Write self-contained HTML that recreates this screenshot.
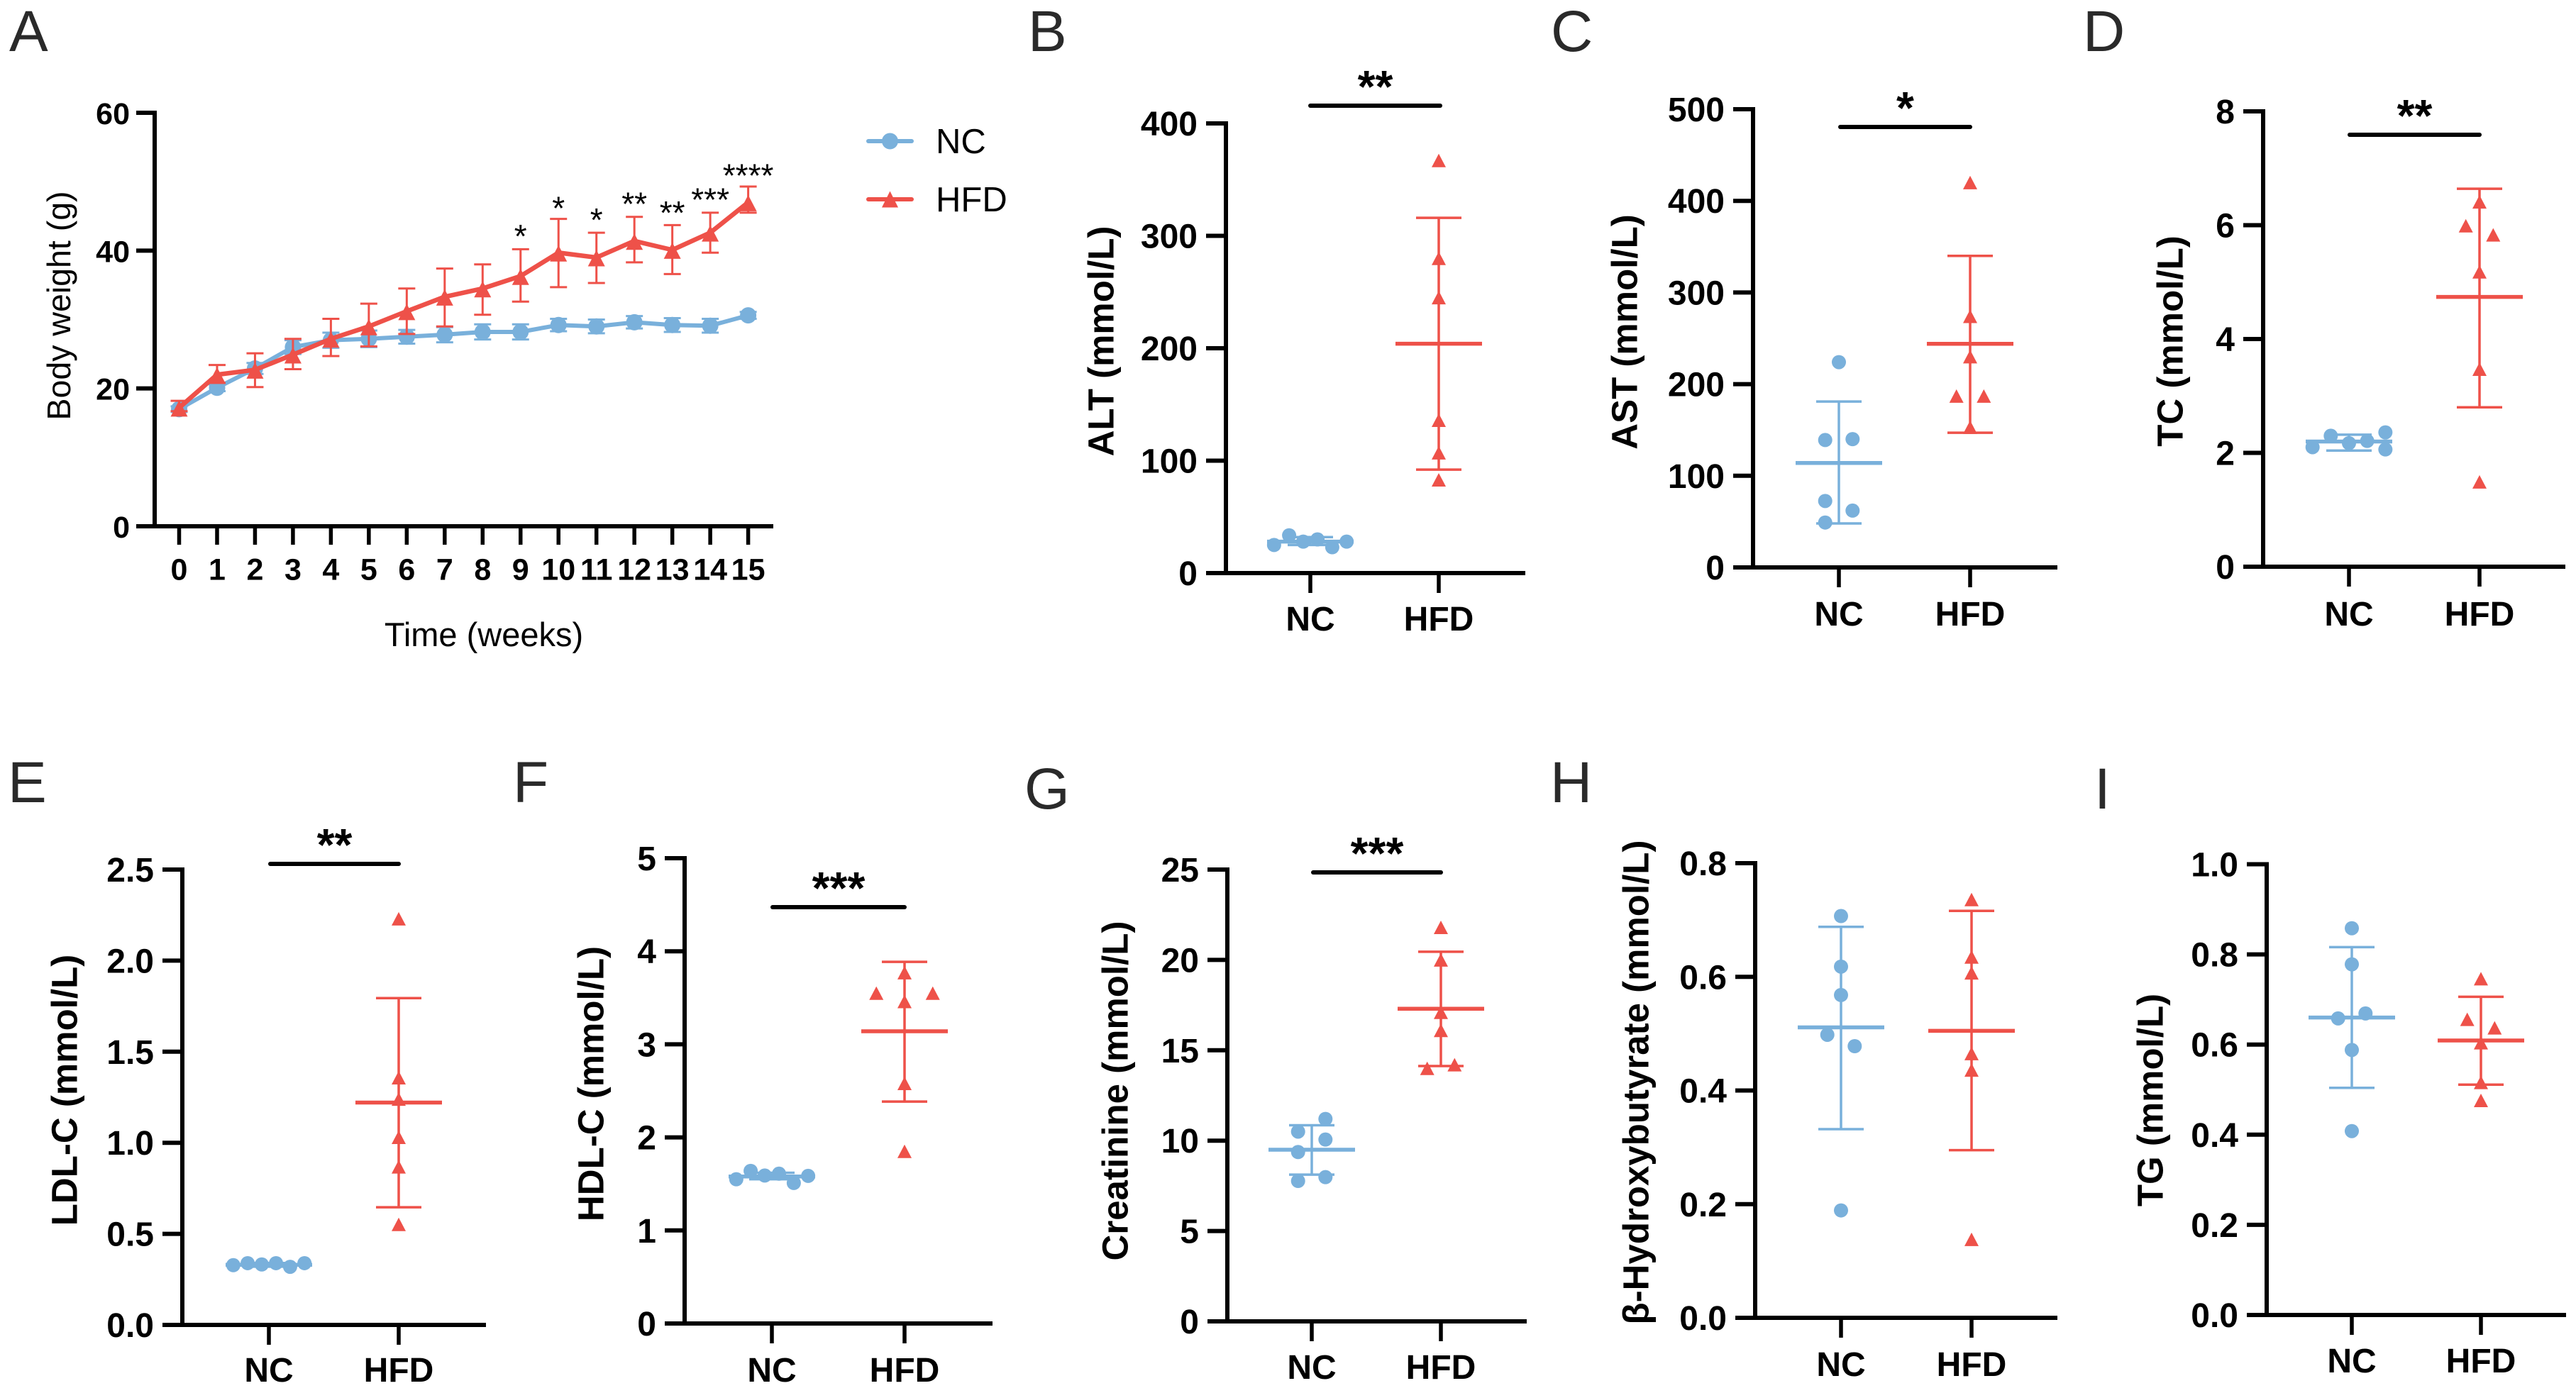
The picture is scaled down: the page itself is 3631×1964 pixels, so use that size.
<!DOCTYPE html>
<html lang="en">
<head>
<meta charset="utf-8">
<title>Body weight and serum biochemistry, NC vs HFD</title>
<style>
html,body{margin:0;padding:0;background:#fff;width:3631px;height:1964px;overflow:hidden}
svg{display:block}
text{font-family:"Liberation Sans",Arial,sans-serif}
</style>
</head>
<body>
<svg id="figure" xmlns="http://www.w3.org/2000/svg" width="3631" height="1964" viewBox="0 0 3631 1964"></svg>
<script>
// ---------- Panel A data ----------
const weeks = [0,1,2,3,4,5,6,7,8,9,10,11,12,13,14,15];
const weightTicks = [0,20,40,60];
const ncWeight   = [17.0,20.1,22.9,26.0,27.0,27.2,27.5,27.8,28.2,28.2,29.2,29.0,29.6,29.2,29.1,30.6];
const ncWeightSd = [0.4,0.5,0.8,1.0,1.1,1.2,1.0,1.1,1.1,1.1,0.9,1.0,0.9,1.0,1.0,0.5];
const hfdWeight   = [17.2,22.0,22.7,24.9,27.2,29.0,31.2,33.3,34.5,36.3,39.7,39.0,41.4,40.1,42.6,47.0];
const hfdWeightHi = [18.2,23.4,25.1,27.2,30.1,32.3,34.5,37.4,38.0,40.2,44.6,42.6,44.9,43.7,45.5,49.3];
const hfdWeightLo = [16.7,20.8,20.2,22.8,24.7,26.1,27.9,29.0,30.7,32.6,34.7,35.3,38.3,36.6,39.7,45.5];
const sigWeeks  = [9,10,11,12,13,14,15];
const sigLabels = ["*","*","*","**","**","***","****"];
const sigLevels = [42.7,46.8,45.1,47.4,46.1,48.0,51.5];

// ---------- Dot plot data (values, [mean, upper, lower], lateral jitter slot) ----------
const altTicks = [0,100,200,300,400];
const altNC  = [25,33.6,28,30,23,28];
const altNCStat = [28,32,25];
const altNCJit  = [-2.65,-1.55,-0.52,0.52,1.6,2.65];
const altHFD = [367,280,245,136,107,83];
const altHFDStat = [204,316,92];
const altHFDJit  = [0,0,0,0,0,0];

const astTicks = [0,100,200,300,400,500];
const astNC  = [224,139,140,72.5,62,49];
const astNCStat = [114,181,48];
const astNCJit  = [0,-1,1,-1,1,-1];
const astHFD = [420,274,230,187,187,153];
const astHFDStat = [244,340,147];
const astHFDJit  = [0,0,0,-1,1,0];

const tcTicks = [0,2,4,6,8];
const tcNC  = [2.10,2.30,2.17,2.21,2.36,2.06];
const tcNCStat = [2.2,2.32,2.04];
const tcNCJit  = [-2.66,-1.33,0,1.33,2.66,2.66];
const tcHFD = [6.41,5.99,5.83,5.18,3.47,1.49];
const tcHFDStat = [4.74,6.64,2.8];
const tcHFDJit  = [0,-1,1,0,0,0];

const ldlTicks = [0,0.5,1,1.5,2,2.5];
const ldlNC  = [0.328,0.339,0.332,0.339,0.319,0.339];
const ldlNCStat = [0.33,0.34,0.32];
const ldlNCJit  = [-2.6,-1.55,-0.52,0.52,1.55,2.6];
const ldlHFD = [2.23,1.357,1.24,1.03,0.868,0.552];
const ldlHFDStat = [1.221,1.794,0.646];
const ldlHFDJit  = [0,0,0,0,0,0];

const hdlTicks = [0,1,2,3,4,5];
const hdlNC  = [1.55,1.64,1.59,1.61,1.51,1.586];
const hdlNCStat = [1.58,1.62,1.55];
const hdlNCJit  = [-2.6,-1.55,-0.52,0.52,1.6,2.65];
const hdlHFD = [3.77,3.55,3.55,3.46,2.58,1.85];
const hdlHFDStat = [3.14,3.886,2.385];
const hdlHFDJit  = [0,-2.06,2.06,0,0,0];

const creTicks = [0,5,10,15,20,25];
const creNC  = [10.5,11.2,10.06,9.37,7.98,7.77];
const creNCStat = [9.5,10.85,8.12];
const creNCJit  = [-1,1,1,-1,1,-1];
const creHFD = [21.8,20,17.1,16.1,14.2,14];
const creHFDStat = [17.3,20.45,14.13];
const creHFDJit  = [0,0,0,0,1,-1];

const bhbTicks = [0,0.2,0.4,0.6,0.8];
const bhbNC  = [0.707,0.618,0.568,0.498,0.478,0.189];
const bhbNCStat = [0.511,0.688,0.332];
const bhbNCJit  = [0,0,0,-1,1,0];
const bhbHFD = [0.736,0.635,0.607,0.465,0.436,0.138];
const bhbHFDStat = [0.505,0.716,0.295];
const bhbHFDJit  = [0,0,0,0,0,0];

const tgTicks = [0,0.2,0.4,0.6,0.8,1];
const tgNC  = [0.858,0.778,0.669,0.658,0.588,0.408];
const tgNCStat = [0.66,0.816,0.504];
const tgNCJit  = [0,0,1,-1,0,0];
const tgHFD = [0.746,0.656,0.637,0.604,0.516,0.476];
const tgHFDStat = [0.609,0.706,0.511];
const tgHFDJit  = [0,-1,1,0,0,0];

const categories = ["NC","HFD"];

// ---------- Drawing ----------
const BLUE = "#79b0db";
const RED = "#ee5149";
const INK = "#000";
const svg = document.getElementById("figure");

function mk(parent, tag, name, attrs, content) {
  const el = document.createElementNS("http://www.w3.org/2000/svg", tag);
  
  
  for (const k in attrs) el.setAttribute(k, attrs[k]);
  if (content !== undefined) el.textContent = content;
  parent.appendChild(el);
  return el;
}
function line(p, name, x1, y1, x2, y2, color, w, cap) {
  return mk(p, "line", name, {x1:x1, y1:y1, x2:x2, y2:y2, stroke:color, "stroke-width":w, "stroke-linecap":cap || "butt"});
}
function circle(p, name, cx, cy, r, color) {
  return mk(p, "circle", name, {cx:cx, cy:cy, r:r, fill:color});
}
function triangle(p, name, cx, cy, w, h, color) {
  return mk(p, "polygon", name, {points:(cx-w/2)+","+(cy+h/2)+" "+(cx+w/2)+","+(cy+h/2)+" "+cx+","+(cy-h/2), fill:color});
}
function text(p, name, x, y, str, size, bold, anchor, color) {
  return mk(p, "text", name, {x:x, y:y, "font-size":size, "font-weight":bold ? "bold" : "normal", "text-anchor":anchor || "middle", fill:color || INK}, str);
}
function vtitle(p, name, cx, cy, str, size, bold) {
  return mk(p, "text", name, {x:cx, y:cy, "font-size":size, "font-weight":bold ? "bold" : "normal", "text-anchor":"middle", fill:INK, transform:"rotate(-90 "+cx+" "+cy+")"}, str);
}

// Panel letters
const letterList = ["A","B","C","D","E","F","G","H","I"];
const letterX = [13,1449,2186,2936,11,723,1444,2185,2952];
const letterY = [72,72,72,72,1131,1131,1140,1131,1140];
letterList.forEach(function (s, i) {
  text(svg, "panel-label-" + s.toLowerCase(), letterX[i], letterY[i], s, 82, false, "start", "#2a2a2a");
});

// Panel A
(function () {
  const g = mk(svg, "g", "panel-a-body-weight", {});
  const ax = 218, y0 = 742, yTop = 159, xEnd = 1090;
  const xOf = function (w) { return 252.5 + (w - weeks[0]) * (1054.6 - 252.5) / (weeks[weeks.length - 1] - weeks[0]); };
  const yOf = function (v) { return y0 - v / weightTicks[weightTicks.length - 1] * (y0 - yTop); };

  line(g, "y-axis", ax, yTop - 3, ax, y0 + 3, INK, 6);
  line(g, "x-axis", ax - 3, y0, xEnd, y0, INK, 6);
  weightTicks.forEach(function (t) {
    line(g, "y-tick-" + t, ax - 26, yOf(t), ax, yOf(t), INK, 6);
    text(g, "y-tick-label-" + t, ax - 35, yOf(t) + 16, String(t), 43, true, "end");
  });
  weeks.forEach(function (w) {
    line(g, "x-tick-" + w, xOf(w), y0, xOf(w), y0 + 26, INK, 5.5);
    text(g, "x-tick-label-" + w, xOf(w), y0 + 75.5, String(w), 43, true);
  });
  vtitle(g, "y-axis-title", 99, 431, "Body weight (g)", 46.5, false);
  text(g, "x-axis-title", 682, 911, "Time (weeks)", 47, false);

  // NC series
  const nc = mk(g, "g", "series-nc", {});
  weeks.forEach(function (w, i) {
    const x = xOf(w), hi = yOf(ncWeight[i] + ncWeightSd[i]), lo = yOf(ncWeight[i] - ncWeightSd[i]);
    line(nc, "nc-error-bar-" + w, x, hi, x, lo, BLUE, 3);
    line(nc, "nc-error-cap-top-" + w, x - 12, hi, x + 12, hi, BLUE, 3);
    line(nc, "nc-error-cap-bottom-" + w, x - 12, lo, x + 12, lo, BLUE, 3);
  });
  mk(nc, "polyline", "nc-line", {points:weeks.map(function (w, i) { return xOf(w) + "," + yOf(ncWeight[i]); }).join(" "), fill:"none", stroke:BLUE, "stroke-width":6, "stroke-linejoin":"round"});
  weeks.forEach(function (w, i) {
    circle(nc, "nc-point-" + w, xOf(w), yOf(ncWeight[i]), 11.5, BLUE);
  });

  // HFD series
  const hf = mk(g, "g", "series-hfd", {});
  weeks.forEach(function (w, i) {
    const x = xOf(w), hi = yOf(hfdWeightHi[i]), lo = yOf(hfdWeightLo[i]);
    line(hf, "hfd-error-bar-" + w, x, hi, x, lo, RED, 3);
    line(hf, "hfd-error-cap-top-" + w, x - 12, hi, x + 12, hi, RED, 3);
    line(hf, "hfd-error-cap-bottom-" + w, x - 12, lo, x + 12, lo, RED, 3);
  });
  mk(hf, "polyline", "hfd-line", {points:weeks.map(function (w, i) { return xOf(w) + "," + yOf(hfdWeight[i]); }).join(" "), fill:"none", stroke:RED, "stroke-width":6.5, "stroke-linejoin":"round"});
  weeks.forEach(function (w, i) {
    triangle(hf, "hfd-point-" + w, xOf(w), yOf(hfdWeight[i]) + 1, 24, 23, RED);
  });

  // Significance marks
  sigWeeks.forEach(function (w, i) {
    text(g, "significance-week-" + w, xOf(w), yOf(sigLevels[i]) + 22, sigLabels[i], 46, false);
  });

  // Legend
  const lg = mk(g, "g", "legend", {});
  line(lg, "legend-nc-line", 1224, 199, 1285, 199, BLUE, 6, "round");
  circle(lg, "legend-nc-marker", 1254.5, 199, 11.5, BLUE);
  text(lg, "legend-nc-label", 1319, 216, categories[0], 49, false, "start");
  line(lg, "legend-hfd-line", 1224, 281, 1285, 281, RED, 6, "round");
  triangle(lg, "legend-hfd-marker", 1254.5, 281, 23, 23, RED);
  text(lg, "legend-hfd-label", 1319, 298, categories[1], 49, false, "start");
})();

// Dot plots
const JIT = 19.3;
function dotPlot(cfg) {
  const g = mk(svg, "g", "panel-" + cfg.id, {});
  const ax = cfg.ax, y0 = cfg.y0, yTop = cfg.yTop;
  const maxT = cfg.ticks[cfg.ticks.length - 1];
  const yOf = function (v) { return y0 - v / maxT * (y0 - yTop); };
  const xc = [cfg.xNC, cfg.xHFD];

  line(g, "y-axis", ax, yTop - 3, ax, y0 + 3, INK, 6);
  line(g, "x-axis", ax - 3, y0, cfg.xEnd, y0, INK, 6);
  cfg.ticks.forEach(function (t) {
    const s = t.toFixed(cfg.dec);
    line(g, "y-tick-" + s, ax - 28, yOf(t), ax, yOf(t), INK, 6);
    text(g, "y-tick-label-" + s, ax - 40, yOf(t) + 17, s, 48, true, "end");
  });
  categories.forEach(function (c, i) {
    const nm = c.toLowerCase();
    line(g, "x-tick-" + nm, xc[i], y0, xc[i], y0 + 28, INK, 5.5);
    text(g, "x-tick-label-" + nm, xc[i], y0 + cfg.catDy, c, 48, true);
  });
  mk(g, "text", "y-axis-title", {x:cfg.titleX, y:cfg.titleY, "font-size":51, "font-weight":"bold", "text-anchor":"middle", "dominant-baseline":"central", fill:INK, transform:"rotate(-90 "+cfg.titleX+" "+cfg.titleY+")"}, cfg.title);

  function group(nm, x, vals, stat, jit, color, isTri) {
    const s = mk(g, "g", "group-" + nm, {});
    const m = yOf(stat[0]), hi = yOf(stat[1]), lo = yOf(stat[2]);
    line(s, nm + "-error-bar", x, hi, x, lo, color, 3.5);
    line(s, nm + "-error-cap-top", x - 32, hi, x + 32, hi, color, 3.5);
    line(s, nm + "-error-cap-bottom", x - 32, lo, x + 32, lo, color, 3.5);
    line(s, nm + "-mean-line", x - 61, m, x + 61, m, color, 5.5);
    vals.forEach(function (v, i) {
      const px = x + jit[i] * JIT, py = yOf(v);
      if (isTri) triangle(s, nm + "-point-" + (i + 1), px, py, 20, 19, color);
      else circle(s, nm + "-point-" + (i + 1), px, py, 10, color);
    });
  }
  group("nc", cfg.xNC, cfg.nc, cfg.ncStat, cfg.ncJit, BLUE, false);
  group("hfd", cfg.xHFD, cfg.hfd, cfg.hfdStat, cfg.hfdJit, RED, true);

  if (cfg.sig) {
    line(g, "significance-bar", cfg.sigX1, cfg.sigY, cfg.sigX2, cfg.sigY, INK, 6, "round");
    text(g, "significance-stars", (cfg.sigX1 + cfg.sigX2) / 2, cfg.sigY - 5, cfg.sig, 64, true);
  }
}

dotPlot({id:"b-alt", catDy:81, ax:1728, y0:808, yTop:174, xEnd:2150, xNC:1847, xHFD:2028, ticks:altTicks, dec:0, title:"ALT (mmol/L)", titleX:1552, titleY:481, nc:altNC, ncStat:altNCStat, ncJit:altNCJit, hfd:altHFD, hfdStat:altHFDStat, hfdJit:altHFDJit, sig:"**", sigX1:1847, sigX2:2030, sigY:149});
dotPlot({id:"c-ast", catDy:82, ax:2471, y0:800, yTop:154, xEnd:2900, xNC:2592, xHFD:2777, ticks:astTicks, dec:0, title:"AST (mmol/L)", titleX:2290, titleY:468, nc:astNC, ncStat:astNCStat, ncJit:astNCJit, hfd:astHFD, hfdStat:astHFDStat, hfdJit:astHFDJit, sig:"*", sigX1:2594, sigX2:2777, sigY:179});
dotPlot({id:"d-tc", catDy:83, ax:3190, y0:799, yTop:157, xEnd:3616, xNC:3311, xHFD:3495, ticks:tcTicks, dec:0, title:"TC (mmol/L)", titleX:3059, titleY:481, nc:tcNC, ncStat:tcNCStat, ncJit:tcNCJit, hfd:tcHFD, hfdStat:tcHFDStat, hfdJit:tcHFDJit, sig:"**", sigX1:3312, sigX2:3495, sigY:190});
dotPlot({id:"e-ldl", catDy:80, ax:257, y0:1868, yTop:1226, xEnd:685, xNC:379, xHFD:562, ticks:ldlTicks, dec:1, title:"LDL-C (mmol/L)", titleX:91, titleY:1537, nc:ldlNC, ncStat:ldlNCStat, ncJit:ldlNCJit, hfd:ldlHFD, hfdStat:ldlHFDStat, hfdJit:ldlHFDJit, sig:"**", sigX1:381, sigX2:562, sigY:1218});
dotPlot({id:"f-hdl", catDy:82, ax:965, y0:1866, yTop:1210, xEnd:1399, xNC:1088, xHFD:1275, ticks:hdlTicks, dec:0, title:"HDL-C (mmol/L)", titleX:833, titleY:1528, nc:hdlNC, ncStat:hdlNCStat, ncJit:hdlNCJit, hfd:hdlHFD, hfdStat:hdlHFDStat, hfdJit:hdlHFDJit, sig:"***", sigX1:1089, sigX2:1275, sigY:1279});
dotPlot({id:"g-creatinine", catDy:81, ax:1730, y0:1863, yTop:1226, xEnd:2152, xNC:1849, xHFD:2031, ticks:creTicks, dec:0, title:"Creatinine (mmol/L)", titleX:1572, titleY:1538, nc:creNC, ncStat:creNCStat, ncJit:creNCJit, hfd:creHFD, hfdStat:creHFDStat, hfdJit:creHFDJit, sig:"***", sigX1:1851, sigX2:2031, sigY:1230});
dotPlot({id:"h-hydroxybutyrate", catDy:82, ax:2474, y0:1858, yTop:1217, xEnd:2900, xNC:2595, xHFD:2779, ticks:bhbTicks, dec:1, title:"β-Hydroxybutyrate (mmol/L)", titleX:2306, titleY:1526, nc:bhbNC, ncStat:bhbNCStat, ncJit:bhbNCJit, hfd:bhbHFD, hfdStat:bhbHFDStat, hfdJit:bhbHFDJit});
dotPlot({id:"i-tg", catDy:81, ax:3195, y0:1854, yTop:1218.5, xEnd:3617, xNC:3315, xHFD:3497, ticks:tgTicks, dec:1, title:"TG (mmol/L)", titleX:3031, titleY:1551, nc:tgNC, ncStat:tgNCStat, ncJit:tgNCJit, hfd:tgHFD, hfdStat:tgHFDStat, hfdJit:tgHFDJit});
</script>
</body>
</html>
